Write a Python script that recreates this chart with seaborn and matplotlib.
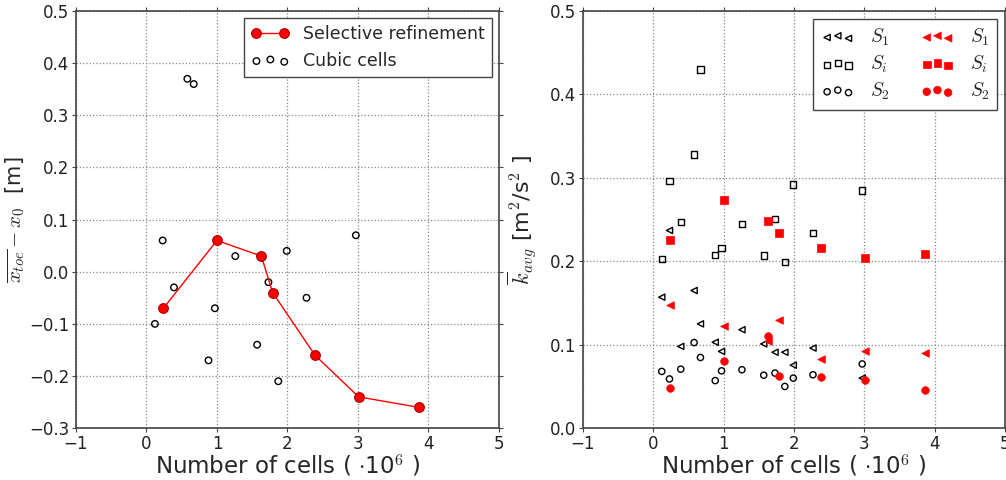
import seaborn as sns
import matplotlib.pyplot as plt
import pandas as pd

# cubic cells (black, open markers)
cubic_n = [0.12, 0.23, 0.39, 0.58, 0.67, 0.88, 0.97, 1.26, 1.57, 1.73, 1.87, 1.99, 2.27, 2.97]
cubic_xtoe = [-0.10, 0.06, -0.03, 0.37, 0.36, -0.17, -0.07, 0.03, -0.14, -0.02, -0.21, 0.04, -0.05, 0.07]
cubic_s1 = [0.157, 0.237, 0.098, 0.165, 0.125, 0.103, 0.092, 0.118, 0.101, 0.091, 0.091, 0.0755, 0.096, 0.060]
cubic_si = [0.2025, 0.296, 0.247, 0.328, 0.430, 0.208, 0.216, 0.245, 0.207, 0.251, 0.199, 0.292, 0.234, 0.285]
cubic_s2 = [0.068, 0.059, 0.0707, 0.1026, 0.0847, 0.057, 0.0687, 0.070, 0.0635, 0.066, 0.050, 0.060, 0.064, 0.077]

# selective refinement (red, filled markers)
sel_n = [0.24, 1.00, 1.63, 1.79, 2.39, 3.01, 3.86]
sel_xtoe = [-0.07, 0.06, 0.03, -0.04, -0.16, -0.24, -0.26]
sel_s1 = [0.148, 0.123, 0.105, 0.130, 0.083, 0.092, 0.090]
sel_si = [0.2256, 0.274, 0.248, 0.234, 0.2165, 0.2045, 0.209]
sel_s2 = [0.0487, 0.080, 0.111, 0.0627, 0.0615, 0.058, 0.046]

cubic = pd.DataFrame({"n": cubic_n, "xtoe": cubic_xtoe, "s1": cubic_s1, "si": cubic_si, "s2": cubic_s2})
sel = pd.DataFrame({"n": sel_n, "xtoe": sel_xtoe, "s1": sel_s1, "si": sel_si, "s2": sel_s2})

sns.set_style("ticks")
plt.rcParams["font.family"] = ["DejaVu Sans"]
plt.rcParams["mathtext.fontset"] = "cm"
plt.rcParams["axes.edgecolor"] = "#444444"
plt.rcParams["xtick.color"] = "#444444"
plt.rcParams["ytick.color"] = "#444444"
plt.rcParams["xtick.labelcolor"] = "#222222"
plt.rcParams["ytick.labelcolor"] = "#222222"

fig = plt.figure(figsize=(10.06, 4.8), dpi=100)
ax1 = fig.add_axes([0.0755, 0.108, 0.4205, 0.869])
ax2 = fig.add_axes([0.5795, 0.108, 0.4195, 0.869])

xlabel = "Number of cells ( $\\cdot$10$^6$ )"

# left panel
sns.lineplot(data=sel, x="n", y="xtoe", ax=ax1, color="red", lw=1, marker="o", markersize=7,
             markerfacecolor="red", markeredgecolor="#aa0000", markeredgewidth=0.8,
             label="Selective refinement")
sns.scatterplot(data=cubic, x="n", y="xtoe", ax=ax1, s=22, facecolor="none", edgecolor="black",
                linewidth=1, label="Cubic cells")
ax1.set_xlim(-1, 5)
ax1.set_ylim(-0.3, 0.5)
ax1.set_xlabel(xlabel, fontsize=16.5, labelpad=0)
ax1.set_ylabel(r"$\overline{x_{toe}} - x_0$  [m]", fontsize=15, labelpad=1)
ax1.legend(loc="upper right", numpoints=2, scatterpoints=3, fontsize=12.5, fancybox=False,
           edgecolor="#444444", framealpha=1, handlelength=2.2, borderaxespad=0.4)

# right panel
mk = dict(s=20, linewidth=1)
sns.scatterplot(data=cubic, x="n", y="s1", ax=ax2, marker="<", facecolor="none", edgecolor="black", label=r"$S_1$", **mk)
sns.scatterplot(data=cubic, x="n", y="si", ax=ax2, marker="s", facecolor="none", edgecolor="black", label=r"$S_i$", **mk)
sns.scatterplot(data=cubic, x="n", y="s2", ax=ax2, marker="o", facecolor="none", edgecolor="black", label=r"$S_2$", **mk)
sns.scatterplot(data=sel, x="n", y="s1", ax=ax2, marker="<", color="red", edgecolor="red", label=r"$S_1$", s=30, linewidth=0.5)
sns.scatterplot(data=sel, x="n", y="si", ax=ax2, marker="s", color="red", edgecolor="red", label=r"$S_i$", s=30, linewidth=0.5)
sns.scatterplot(data=sel, x="n", y="s2", ax=ax2, marker="o", color="red", edgecolor="red", label=r"$S_2$", s=30, linewidth=0.5)
ax2.set_xlim(-1, 5)
ax2.set_ylim(0.0, 0.5)
ax2.set_xlabel(xlabel, fontsize=16.5, labelpad=0)
ax2.set_ylabel(r"$\overline{k}_{avg}$ [m$^2$/s$^2$ ]", fontsize=16, labelpad=8)
ax2.legend(loc="upper right", ncol=2, scatterpoints=3, fontsize=14, fancybox=False,
           edgecolor="#444444", framealpha=1, columnspacing=1.6, borderaxespad=0.4,
           labelspacing=0.3, handletextpad=0.8, handlelength=1.7)

for ax in (ax1, ax2):
    ax.set_xticks(range(-1, 6))
    ax.grid(True, linestyle=":", color="#888888", linewidth=0.9)
    ax.tick_params(labelsize=12, length=3, width=0.8, top=True, right=True, pad=2)
    for sp in ax.spines.values():
        sp.set_linewidth(1.2)
ax1.set_yticks([-0.3, -0.2, -0.1, 0.0, 0.1, 0.2, 0.3, 0.4, 0.5])
ax1.set_yticklabels(["\u22120.3", "\u22120.2", "\u22120.1", "0.0", "0.1", "0.2", "0.3", "0.4", "0.5"])
ax2.set_yticks([0.0, 0.1, 0.2, 0.3, 0.4, 0.5])
ax2.set_yticklabels(["0.0", "0.1", "0.2", "0.3", "0.4", "0.5"])

fig.savefig("out.png", dpi=100)
